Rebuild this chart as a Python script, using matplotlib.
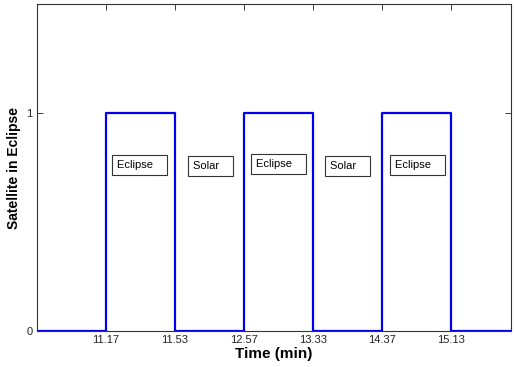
import matplotlib
matplotlib.use("Agg")
import matplotlib.pyplot as plt

plt.rcParams['font.family'] = ['Liberation Sans', 'DejaVu Sans']

# Data
tick_labels = ["11.17", "11.53", "12.57", "13.33", "14.37", "15.13"]
tick_pos = [1, 2, 3, 4, 5, 6]
step_x = [0, 1, 2, 3, 4, 5, 6, 6.87]
step_y = [0, 1, 0, 1, 0, 1, 0, 0]
label_texts = ["Eclipse", "Solar", "Eclipse", "Solar", "Eclipse"]
label_x = [1.16, 2.256, 3.174, 4.246, 5.19]
label_y = [0.76, 0.755, 0.766, 0.757, 0.76]

fig = plt.figure(figsize=(5.15, 3.67), dpi=100)
ax = fig.add_axes([0.0718, 0.098, 0.9202, 0.891])

ax.step(step_x, step_y, where='post', color='#0000ee', linewidth=1.6)

for t, x, y in zip(label_texts, label_x, label_y):
    ax.text(x, y, t + "   ", ha='left', va='center', fontsize=8,
            bbox=dict(boxstyle='square,pad=0.45', facecolor='white',
                      edgecolor='#333333', linewidth=0.8))

ax.set_xlim(0, 6.87)
ax.set_ylim(0, 1.5)
ax.set_xticks(tick_pos)
ax.set_xticklabels(tick_labels)
ax.set_yticks([0, 1])
ax.set_yticklabels(["0", "1"])
ax.tick_params(direction='in', length=4, width=0.6, top=True, right=True,
               labelsize=8, colors='#222222', pad=3)
for s in ax.spines.values():
    s.set_linewidth(0.8)
    s.set_color('#333333')

ax.set_xlabel("Time (min)", fontsize=11, fontweight='bold', labelpad=1)
ax.set_ylabel("Satellite in Eclipse", fontsize=10, fontweight='bold', labelpad=4)

fig.savefig("out.png", dpi=100)
